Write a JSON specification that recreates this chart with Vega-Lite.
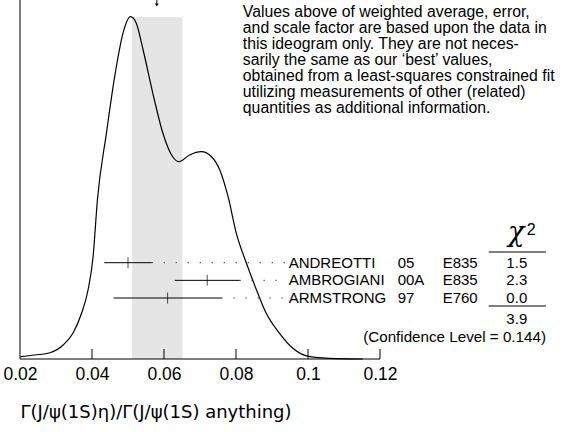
{
  "$schema": "https://vega.github.io/schema/vega-lite/v6.json",
  "width": 568,
  "height": 359,
  "padding": {"left": 20, "top": 0, "right": 0, "bottom": 73},
  "autosize": {"type": "none"},
  "config": {"view": {"stroke": null}, "font": "Liberation Sans"},
  "datasets": {
    "curve": [
      {"v": 0.0201, "d": 2.3}, {"v": 0.0241, "d": 4}, {"v": 0.0283, "d": 6.3}, {"v": 0.032, "d": 14},
      {"v": 0.0347, "d": 25.7}, {"v": 0.0371, "d": 45.7}, {"v": 0.0389, "d": 69}, {"v": 0.0403, "d": 102.3},
      {"v": 0.0415, "d": 159}, {"v": 0.044, "d": 225.7}, {"v": 0.0463, "d": 282.3}, {"v": 0.0486, "d": 325.7},
      {"v": 0.0507, "d": 342.3}, {"v": 0.0523, "d": 335.7}, {"v": 0.0542, "d": 309}, {"v": 0.0569, "d": 265.7},
      {"v": 0.0597, "d": 225.7}, {"v": 0.0621, "d": 204}, {"v": 0.0641, "d": 197.3}, {"v": 0.0671, "d": 204},
      {"v": 0.0704, "d": 207.3}, {"v": 0.0732, "d": 202.3}, {"v": 0.0755, "d": 189}, {"v": 0.0778, "d": 162.3},
      {"v": 0.0801, "d": 125.7}, {"v": 0.0829, "d": 95.7}, {"v": 0.0857, "d": 69}, {"v": 0.0884, "d": 45.7},
      {"v": 0.0921, "d": 25.7}, {"v": 0.0958, "d": 10.7}, {"v": 0.1005, "d": 2.3}, {"v": 0.1079, "d": 0.3},
      {"v": 0.1152, "d": 0}
    ],
    "meas": [
      {"name": "ANDREOTTI", "year": "05", "exp": "E835", "value": 0.050, "lo": 0.0434, "hi": 0.0566, "chi2": "1.5"},
      {"name": "AMBROGIANI", "year": "00A", "exp": "E835", "value": 0.072, "lo": 0.063, "hi": 0.081, "chi2": "2.3"},
      {"name": "ARMSTRONG", "year": "97", "exp": "E760", "value": 0.061, "lo": 0.046, "hi": 0.076, "chi2": "0.0"}
    ],
    "avg": [{"mean": 0.058, "lo": 0.0511, "hi": 0.0651}],
    "ticks": [{"t": 0.04}, {"t": 0.06}, {"t": 0.08}, {"t": 0.1}, {"t": 0.12}]
  },
  "layer": [
    {
      "layer": [
        {
          "data": {"name": "avg"},
          "mark": {"type": "rect", "color": "#e5e5e5"},
          "encoding": {
            "x": {"field": "lo", "type": "quantitative", "scale": {"domain": [0.02, 0.17778], "nice": false, "zero": false},
              "axis": {"values": [0.02, 0.04, 0.06, 0.08, 0.1, 0.12], "format": "~g", "domain": false, "ticks": false, "tickSize": 0, "grid": false, "labelFlush": false,
                "labelFont": "Liberation Sans", "labelFontSize": 17.5, "labelColor": "black", "labelPadding": 6,
                "title": "Γ(J/ψ(1S)η)/Γ(J/ψ(1S) anything)", "titleFont": "DejaVu Sans", "titleFontSize": 18, "titleFontWeight": "normal",
                "titleColor": "black", "titleAnchor": "start", "titleAlign": "left", "titleX": 0, "titleY": 53, "titleBaseline": "middle"}},
            "x2": {"field": "hi"},
            "y": {"datum": 0, "type": "quantitative", "scale": {"domain": [0, 359], "nice": false, "zero": true}, "axis": null},
            "y2": {"datum": 342}
          }
        },
        {
          "data": {"name": "curve"},
          "mark": {"type": "line", "color": "black", "strokeWidth": 1.2, "interpolate": "monotone"},
          "encoding": {
            "x": {"field": "v", "type": "quantitative"},
            "y": {"field": "d", "type": "quantitative"}
          }
        },
        {
          "data": {"name": "avg"},
          "mark": {"type": "rule", "color": "black", "strokeWidth": 1},
          "encoding": {
            "x": {"datum": 0.02, "type": "quantitative"},
            "y": {"datum": 0, "type": "quantitative"},
            "y2": {"datum": 359}
          }
        },
        {
          "data": {"name": "avg"},
          "mark": {"type": "rule", "color": "black", "strokeWidth": 1},
          "encoding": {
            "x": {"datum": 0.02, "type": "quantitative"},
            "x2": {"datum": 0.12},
            "y": {"datum": 0, "type": "quantitative"}
          }
        },
        {
          "data": {"name": "ticks"},
          "mark": {"type": "rule", "color": "black", "strokeWidth": 1},
          "encoding": {
            "x": {"field": "t", "type": "quantitative"},
            "y": {"datum": 0, "type": "quantitative"},
            "y2": {"datum": 10}
          }
        },
        {
          "data": {"name": "avg"},
          "mark": {"type": "rule", "color": "black", "strokeWidth": 1},
          "encoding": {
            "x": {"field": "mean", "type": "quantitative"},
            "y": {"datum": 359, "type": "quantitative"},
            "y2": {"datum": 354}
          }
        },
        {
          "data": {"name": "avg"},
          "mark": {"type": "point", "shape": "triangle-down", "filled": true, "color": "black", "size": 14, "opacity": 1},
          "encoding": {
            "x": {"field": "mean", "type": "quantitative"},
            "y": {"datum": 354, "type": "quantitative"}
          }
        },
        {
          "data": {"values": [{"txt": "Values above of weighted average, error,\nand scale factor are based upon the data in\nthis ideogram only.  They are not neces-\nsarily the same as our ‘best’ values,\nobtained from a least-squares constrained fit\nutilizing measurements of other (related)\nquantities as additional information."}]},
          "mark": {"type": "text", "align": "left", "baseline": "top", "fontSize": 15.8, "lineHeight": 16.1, "lineBreak": "\n", "color": "black", "font": "Liberation Sans"},
          "encoding": {
            "text": {"field": "txt"},
            "x": {"datum": 0.0819, "type": "quantitative"},
            "y": {"datum": 354.5, "type": "quantitative"}
          }
        },
        {
          "data": {"values": [{"a": 0.1502, "b": 0.1661, "h": 107}, {"a": 0.1502, "b": 0.1661, "h": 53}]},
          "mark": {"type": "rule", "color": "black", "strokeWidth": 1},
          "encoding": {
            "x": {"field": "a", "type": "quantitative"},
            "x2": {"field": "b"},
            "y": {"field": "h", "type": "quantitative"}
          }
        },
        {
          "data": {"values": [{"txt": "χ"}]},
          "mark": {"type": "text", "align": "center", "baseline": "alphabetic", "fontSize": 27, "color": "black", "font": "DejaVu Serif", "fontStyle": "italic"},
          "encoding": {
            "text": {"field": "txt"},
            "x": {"datum": 0.1578, "type": "quantitative"},
            "y": {"datum": 118, "type": "quantitative"}
          }
        },
        {
          "data": {"values": [{"txt": "2"}]},
          "mark": {"type": "text", "align": "left", "baseline": "alphabetic", "fontSize": 16, "color": "black", "font": "Liberation Sans"},
          "encoding": {
            "text": {"field": "txt"},
            "x": {"datum": 0.1608, "type": "quantitative"},
            "y": {"datum": 124, "type": "quantitative"}
          }
        },
        {
          "data": {"values": [{"txt": "3.9"}]},
          "mark": {"type": "text", "align": "center", "baseline": "middle", "fontSize": 15, "color": "black", "font": "Liberation Sans"},
          "encoding": {
            "text": {"field": "txt"},
            "x": {"datum": 0.158, "type": "quantitative"},
            "y": {"datum": 40, "type": "quantitative"}
          }
        },
        {
          "data": {"values": [{"txt": "(Confidence Level = 0.144)"}]},
          "mark": {"type": "text", "align": "right", "baseline": "middle", "fontSize": 15.2, "color": "black", "font": "Liberation Sans"},
          "encoding": {
            "text": {"field": "txt"},
            "x": {"datum": 0.1661, "type": "quantitative"},
            "y": {"datum": 22, "type": "quantitative"}
          }
        }
      ]
    },
    {
      "data": {"name": "meas"},
      "encoding": {
        "y": {"field": "name", "type": "nominal", "scale": {"type": "point", "domain": ["ANDREOTTI", "AMBROGIANI", "ARMSTRONG"], "range": [262.7, 298], "padding": 0}, "axis": null}
      },
      "layer": [
        {
          "mark": {"type": "rule", "color": "black", "strokeWidth": 1, "strokeDash": [1, 11]},
          "encoding": {
            "x": {"field": "hi", "type": "quantitative"},
            "x2": {"datum": 0.0937}
          }
        },
        {
          "mark": {"type": "rule", "color": "black", "strokeWidth": 1},
          "encoding": {
            "x": {"field": "lo", "type": "quantitative"},
            "x2": {"field": "hi"}
          }
        },
        {
          "mark": {"type": "tick", "color": "black", "thickness": 1, "size": 11, "orient": "vertical"},
          "encoding": {
            "x": {"field": "value", "type": "quantitative"}
          }
        },
        {
          "mark": {"type": "text", "align": "left", "baseline": "middle", "fontSize": 15, "color": "black", "font": "Liberation Sans"},
          "encoding": {"text": {"field": "name"}, "x": {"datum": 0.09464, "type": "quantitative"}}
        },
        {
          "mark": {"type": "text", "align": "left", "baseline": "middle", "fontSize": 15, "color": "black", "font": "Liberation Sans"},
          "encoding": {"text": {"field": "year"}, "x": {"datum": 0.1249, "type": "quantitative"}}
        },
        {
          "mark": {"type": "text", "align": "left", "baseline": "middle", "fontSize": 15, "color": "black", "font": "Liberation Sans"},
          "encoding": {"text": {"field": "exp"}, "x": {"datum": 0.1374, "type": "quantitative"}}
        },
        {
          "mark": {"type": "text", "align": "center", "baseline": "middle", "fontSize": 15, "color": "black", "font": "Liberation Sans"},
          "encoding": {"text": {"field": "chi2"}, "x": {"datum": 0.158, "type": "quantitative"}}
        }
      ]
    }
  ],
  "resolve": {"scale": {"y": "independent"}, "axis": {"y": "independent"}}
}
